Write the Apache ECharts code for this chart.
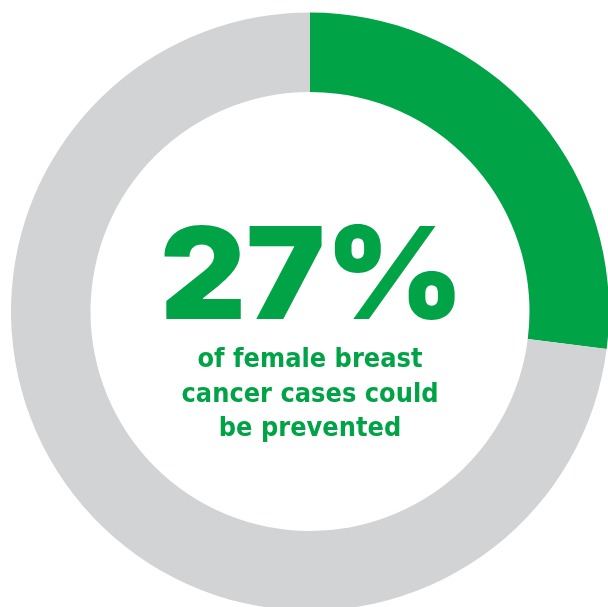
<!DOCTYPE html>
<html>
<head>
<meta charset="utf-8">
<script src="https://cdn.jsdelivr.net/npm/echarts@6/dist/echarts.min.js"></script>
<style>
html,body{margin:0;padding:0;background:#fff;}
#chart{width:608px;height:607px;}
</style>
</head>
<body>
<div id="chart"></div>
<script>
const categories = ['Preventable', 'Not preventable'];
const values = [27, 73];
const colors = ['#00A346', '#D1D3D4'];
const headline = '27%';
const subLines = ['of female breast', 'cancer cases could', 'be prevented'];

const chart = echarts.init(document.getElementById('chart'), null, {renderer: 'canvas'});
const green = colors[0];
const subTops = [347, 382, 416];
chart.setOption({
  backgroundColor: '#ffffff',
  animation: false,
  series: [{
    type: 'pie',
    center: [310, 311.5],
    radius: [219.5, 299],
    startAngle: 90,
    clockwise: true,
    silent: true,
    label: {show: false},
    labelLine: {show: false},
    itemStyle: {borderWidth: 0},
    data: categories.map((c, i) => ({name: c, value: values[i], itemStyle: {color: colors[i]}}))
  }],
  graphic: [
    {
      type: 'text', x: 312, y: 345, scaleX: 1.04, scaleY: 1,
      style: {x: 0, y: 0, text: headline, fill: green, font: '900 128px Inter', textAlign: 'center', textVerticalAlign: 'bottom'}
    }
  ].concat(subLines.map((t, i) => ({
      type: 'text', x: 310, y: subTops[i], scaleX: 0.93,
      style: {x: 0, y: 0, text: t, fill: green, font: 'bold 26px "DejaVu Sans"', textAlign: 'center', textVerticalAlign: 'top'}
  })))
});
</script>
</body>
</html>
